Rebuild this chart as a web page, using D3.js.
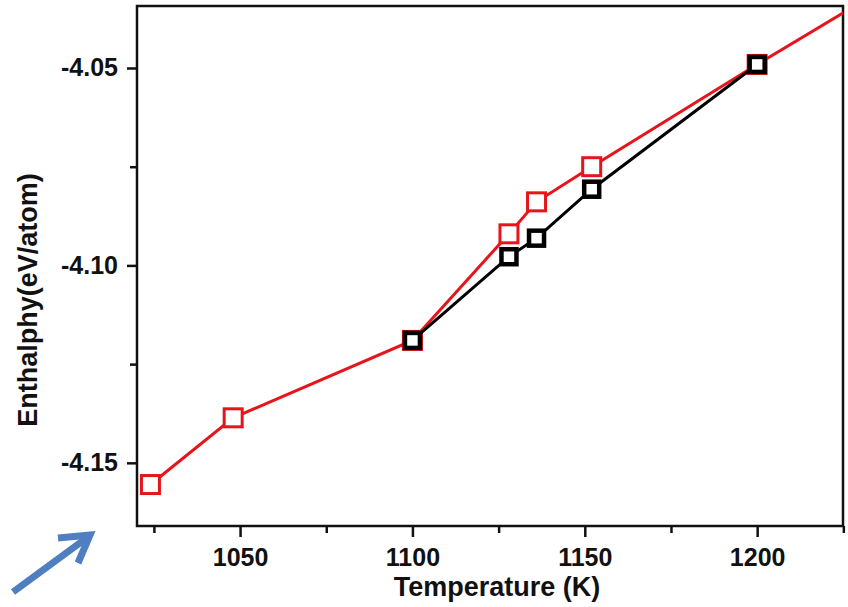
<!DOCTYPE html>
<html>
<head>
<meta charset="utf-8">
<script src="https://cdn.jsdelivr.net/npm/d3@7/dist/d3.min.js"></script>
<style>
    body { margin: 0; background: #fff; }
    text { font-family: "Liberation Sans", Arial, sans-serif; font-weight: bold; fill: #111; }
</style>
</head>
<body>
<script>
    // temperatures (K) and enthalpy values
    var redTemps  = [1024, 1048, 1100, 1128, 1136, 1152, 1200, 1250];
    var redValues = [-4.1555, -4.1386, -4.1190, -4.0920, -4.0839, -4.0750, -4.0491, -4.0229];

    var blackTemps  = [1100, 1128, 1136, 1152, 1200];
    var blackValues = [-4.1190, -4.0978, -4.0931, -4.0807, -4.0491];

    var xMajorTicks = [1050, 1100, 1150, 1200];
    var xMinorTicks = [1025, 1075, 1125, 1175, 1225];
    var yMajorTicks = [-4.15, -4.10, -4.05];
    var yMinorTicks = [-4.125, -4.075];

    var width = 848, height = 607;
    var plot = { left: 137, right: 843, top: 6, bottom: 526 };

    var svg = d3.select("body").append("svg")
        .attr("width", width)
        .attr("height", height);

    var x = d3.scaleLinear()
        .domain([1020.1, 1224.9])
        .range([plot.left, plot.right]);

    var y = d3.scaleLinear()
        .domain([-4.1660, -4.0343])
        .range([plot.bottom, plot.top]);

    // clip the lines to the frame (red line runs past the right edge)
    svg.append("clipPath").attr("id", "plotClip")
        .append("rect")
        .attr("x", plot.left).attr("y", plot.top)
        .attr("width", plot.right - plot.left)
        .attr("height", plot.bottom - plot.top);

    // bottom axis, major + minor ticks, outward
    var xAxisGroup = svg.append("g")
        .attr("transform", "translate(0," + plot.bottom + ")");
    xAxisGroup.call(d3.axisBottom(x).tickValues(xMajorTicks).tickSize(11).tickFormat(d3.format("d")));
    xAxisGroup.selectAll(".tick text").attr("y", 40).attr("dy", 0);
    svg.append("g")
        .attr("transform", "translate(0," + plot.bottom + ")")
        .call(d3.axisBottom(x).tickValues(xMinorTicks).tickSize(7).tickFormat(""));

    // left axis - plain hyphen as minus sign, like the original
    var yAxisGroup = svg.append("g")
        .attr("transform", "translate(" + plot.left + ",0)");
    yAxisGroup.call(d3.axisLeft(y).tickValues(yMajorTicks).tickSize(10).tickPadding(9)
        .tickFormat(function (d) { return d.toFixed(2); }));
    svg.append("g")
        .attr("transform", "translate(" + plot.left + ",0)")
        .call(d3.axisLeft(y).tickValues(yMinorTicks).tickSize(7).tickFormat(""));

    svg.selectAll(".domain").remove();
    svg.selectAll(".tick line").attr("stroke", "#111").attr("stroke-width", 2.5);
    svg.selectAll(".tick text").style("font-size", "25px").attr("fill", "#111");

    // frame
    svg.append("rect")
        .attr("x", plot.left).attr("y", plot.top)
        .attr("width", plot.right - plot.left)
        .attr("height", plot.bottom - plot.top)
        .attr("fill", "none")
        .attr("stroke", "#111")
        .attr("stroke-width", 2.5);

    var plotArea = svg.append("g").attr("clip-path", "url(#plotClip)");

    function drawSeries(temps, values, colour, boxSize, boxStroke) {
        var pts = temps.map(function (t, i) { return [t, values[i]]; });
        var line = d3.line()
            .x(function (d) { return x(d[0]); })
            .y(function (d) { return y(d[1]); });

        plotArea.append("path")
            .datum(pts)
            .attr("fill", "none")
            .attr("stroke", colour)
            .attr("stroke-width", 3)
            .attr("d", line);

        plotArea.selectAll(null)
            .data(pts)
            .enter().append("rect")
            .attr("x", function (d) { return x(d[0]) - boxSize / 2; })
            .attr("y", function (d) { return y(d[1]) - boxSize / 2; })
            .attr("width", boxSize)
            .attr("height", boxSize)
            .attr("fill", "#fff")
            .attr("stroke", colour)
            .attr("stroke-width", boxStroke);
    }

    drawSeries(redTemps, redValues, "#e8141b", 18, 3);
    drawSeries(blackTemps, blackValues, "#000", 15, 4.5);

    // axis titles
    svg.append("text")
        .attr("x", 497).attr("y", 596)
        .attr("text-anchor", "middle")
        .style("font-size", "27px")
        .text("Temperature (K)");

    svg.append("text")
        .attr("transform", "translate(37,300) rotate(-90)")
        .attr("text-anchor", "middle")
        .style("font-size", "27px")
        .text("Enthalphy(eV/atom)");

    // blue arrow bottom-left
    var arrow = svg.append("g")
        .attr("stroke", "#4f7fc0")
        .attr("stroke-width", 7)
        .attr("fill", "none")
        .attr("stroke-linecap", "butt");
    arrow.append("line").attr("x1", 13).attr("y1", 592).attr("x2", 88).attr("y2", 537);
    arrow.append("path")
        .attr("stroke-linejoin", "miter")
        .attr("d", "M58,538 L90,535 L78,563");
</script>
</body>
</html>
